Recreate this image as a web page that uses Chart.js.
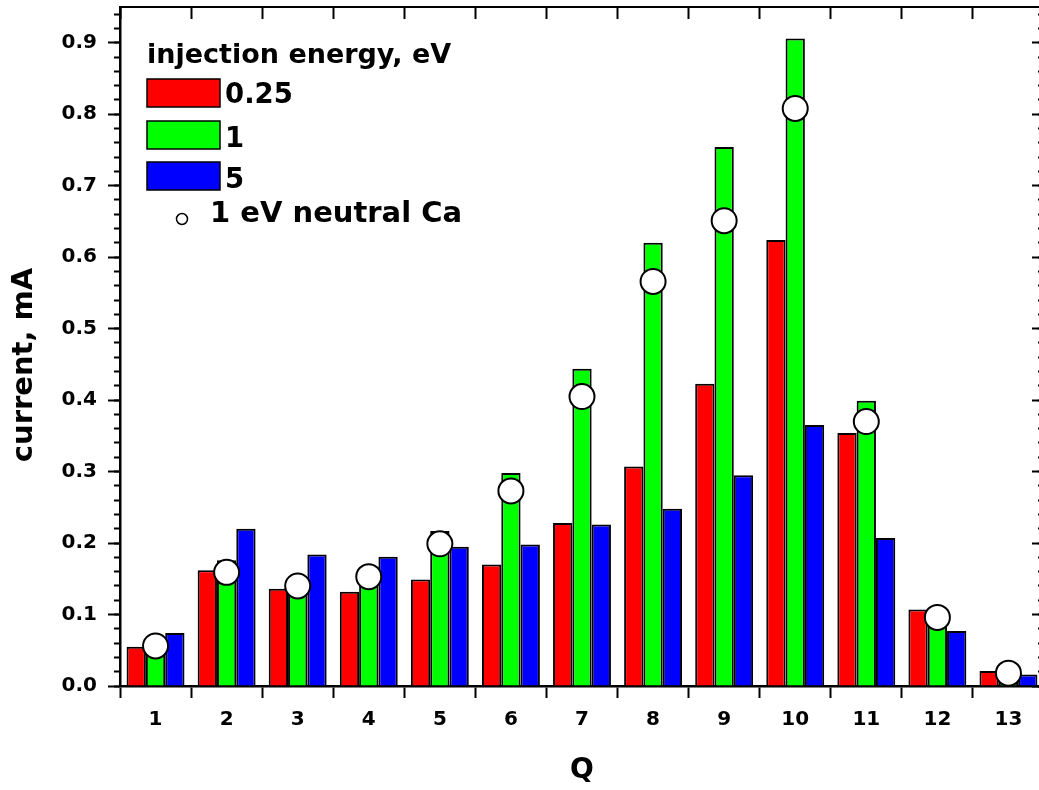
<!DOCTYPE html>
<html><head><meta charset="utf-8">
<script src="https://cdn.jsdelivr.net/npm/chart.js@4/dist/chart.umd.min.js"></script>
<style>html,body{margin:0;padding:0;overflow:hidden;background:#fff}#wrap{position:relative;width:1060px;height:790px}</style>
</head><body><div id="wrap"><canvas id="c"></canvas></div>
<script>
// ---- data ----
const categories = [1, 2, 3, 4, 5, 6, 7, 8, 9, 10, 11, 12, 13];
const xTickLabels = ['1', '2', '3', '4', '5', '6', '7', '8', '9', '10', '11', '12', '13'];
const yTickValues = [0, 0.1, 0.2, 0.3, 0.4, 0.5, 0.6, 0.7, 0.8, 0.9];
const yTickLabels = ['0.0', '0.1', '0.2', '0.3', '0.4', '0.5', '0.6', '0.7', '0.8', '0.9'];
const legendTitle = 'injection energy, eV';
const seriesLabels = ['0.25', '1', '5'];
const markerLabel = '1 eV neutral Ca';
const xTitle = 'Q';
const yTitle = 'current, mA';

const current_025eV = [0.055, 0.162, 0.136, 0.132, 0.149, 0.170, 0.228, 0.307, 0.423, 0.624, 0.354, 0.107, 0.021];
const current_1eV   = [0.062, 0.176, 0.148, 0.156, 0.217, 0.298, 0.444, 0.620, 0.754, 0.906, 0.399, 0.093, 0.017];
const current_5eV   = [0.074, 0.220, 0.184, 0.181, 0.195, 0.198, 0.226, 0.248, 0.295, 0.365, 0.207, 0.077, 0.016];
const neutralCa_1eV = [0.056, 0.159, 0.140, 0.153, 0.199, 0.273, 0.405, 0.566, 0.651, 0.808, 0.370, 0.096, 0.018];

// ---- chart ----
const FONT = '"DejaVu Sans", sans-serif';
Chart.defaults.font.family = FONT;
Chart.defaults.font.weight = 'bold';
Chart.defaults.color = '#000';

const toXY = (vals) => vals.map((v, i) => ({ x: categories[i], y: v }));

const legendPlugin = {
  id: 'boxLegend',
  afterDraw(chart) {
    const ctx = chart.ctx;
    ctx.save();
    ctx.textAlign = 'left';
    ctx.textBaseline = 'alphabetic';
    ctx.fillStyle = '#000';
    ctx.font = 'bold 27px ' + FONT;
    ctx.fillText(legendTitle, 147, 63);
    const boxTops = [79, 121, 162];
    const baselines = [103, 147, 188];
    ctx.font = 'bold 27.5px ' + FONT;
    for (let i = 0; i < 3; i++) {
      const ds = chart.data.datasets[i];
      ctx.fillStyle = ds.backgroundColor;
      ctx.fillRect(147, boxTops[i], 73, 28);
      ctx.lineWidth = 1.5;
      ctx.strokeStyle = '#000';
      ctx.strokeRect(147, boxTops[i], 73, 28);
      ctx.fillStyle = '#000';
      ctx.fillText(ds.label, 225, baselines[i]);
    }
    ctx.beginPath();
    ctx.arc(182, 219, 5.5, 0, Math.PI * 2);
    ctx.fillStyle = '#fff';
    ctx.fill();
    ctx.lineWidth = 1.5;
    ctx.strokeStyle = '#000';
    ctx.stroke();
    ctx.fillStyle = '#000';
    ctx.font = 'bold 29px ' + FONT;
    ctx.fillText(chart.data.datasets[3].label, 210, 222);
    // y axis title
    ctx.translate(24, 365);
    ctx.rotate(-Math.PI / 2);
    ctx.textAlign = 'center';
    ctx.textBaseline = 'middle';
    ctx.font = 'bold 29px ' + FONT;
    ctx.fillText(yTitle, 0, 0);
    ctx.restore();
  }
};

const barCommon = { borderColor: '#000', borderWidth: 2, borderSkipped: 'start', order: 2,
  categoryPercentage: 0.815, barPercentage: 1.0 };

const majorXTicks = (s) => { s.ticks = categories.map(v => ({ value: v })); };
const majorYTicks = (s) => { s.ticks = yTickValues.map(v => ({ value: v })); };
const minorYTicks = (s) => { const t = []; for (let k = 0; k <= 47; k++) t.push({ value: k / 50 }); s.ticks = t; };
const noPad = (s) => { s.paddingTop = 0; s.paddingBottom = 0; s.paddingLeft = 0; s.paddingRight = 0; };

new Chart(document.getElementById('c'), {
  type: 'bar',
  data: {
    datasets: [
      Object.assign({ label: seriesLabels[0], data: toXY(current_025eV), backgroundColor: '#FF0000' }, barCommon),
      Object.assign({ label: seriesLabels[1], data: toXY(current_1eV), backgroundColor: '#00FF00' }, barCommon),
      Object.assign({ label: seriesLabels[2], data: toXY(current_5eV), backgroundColor: '#0000FF' }, barCommon),
      { type: 'line', label: markerLabel, data: toXY(neutralCa_1eV), showLine: false, order: 0,
        pointStyle: 'circle', pointRadius: 12.5, pointBackgroundColor: '#fff', pointBorderColor: '#000',
        pointBorderWidth: 2, backgroundColor: '#fff', borderColor: '#000' }
    ]
  },
  options: {
    responsive: true, maintainAspectRatio: false, animation: false, devicePixelRatio: 1,
    layout: { padding: 0, autoPadding: false },
    plugins: { legend: { display: false }, tooltip: { enabled: false } },
    scales: {
      x: {
        type: 'linear', position: 'bottom', min: 0.5, max: 13.5, offset: false, weight: 1,
        afterBuildTicks: majorXTicks,
        ticks: { autoSkip: false, maxRotation: 0, padding: 10, font: { size: 20, weight: 'bold' },
          callback: (v) => xTickLabels[categories.indexOf(v)] },
        grid: { drawOnChartArea: false, drawTicks: true, tickLength: 12, tickWidth: 2, tickColor: '#000' },
        border: { display: true, color: '#000', width: 2.5 },
        title: { display: true, text: xTitle, font: { size: 28, weight: 'bold' }, padding: { top: 0, bottom: 2 } },
        afterFit: (s) => { s.height = 104; noPad(s); }
      },
      xTop: {
        type: 'linear', position: 'top', min: 0.5, max: 13.5, offset: false,
        afterBuildTicks: majorXTicks,
        ticks: { display: false },
        grid: { drawOnChartArea: false, drawTicks: true, tickLength: -12, tickWidth: 2, tickColor: '#000' },
        border: { display: true, color: '#000', width: 2 },
        afterFit: (s) => { s.height = 7; noPad(s); }
      },
      y: {
        type: 'linear', position: 'left', min: 0, max: 0.95, weight: 1,
        afterBuildTicks: majorYTicks,
        ticks: { padding: 11, font: { size: 20, weight: 'bold' },
          callback: (v) => yTickLabels[yTickValues.findIndex(t => Math.abs(t - v) < 1e-9)] },
        grid: { drawOnChartArea: false, drawTicks: true, tickLength: 12, tickWidth: 2, tickColor: '#000' },
        border: { display: true, color: '#000', width: 2.5 },
        title: { display: false, text: yTitle },
        afterFit: (s) => { s.width = 120; noPad(s); }
      },
      yMinor: {
        type: 'linear', position: 'left', min: 0, max: 0.95, weight: 0,
        afterBuildTicks: minorYTicks,
        ticks: { display: false },
        grid: { drawOnChartArea: false, drawTicks: true, tickLength: 6, tickWidth: 2, tickColor: '#000' },
        border: { display: false },
        afterFit: (s) => { s.width = 0; noPad(s); }
      },
      yRight: {
        type: 'linear', position: 'right', min: 0, max: 0.95, weight: 1,
        afterBuildTicks: majorYTicks,
        ticks: { display: false },
        grid: { drawOnChartArea: false, drawTicks: true, tickLength: -12, tickWidth: 2, tickColor: '#000' },
        border: { display: true, color: '#000', width: 2 },
        afterFit: (s) => { s.width = 16; noPad(s); }
      },
      yRightMinor: {
        type: 'linear', position: 'right', min: 0, max: 0.95, weight: 0,
        afterBuildTicks: minorYTicks,
        ticks: { display: false },
        grid: { drawOnChartArea: false, drawTicks: true, tickLength: -6, tickWidth: 2, tickColor: '#000' },
        border: { display: false },
        afterFit: (s) => { s.width = 0; noPad(s); }
      }
    }
  },
  plugins: [legendPlugin]
});
</script>
</body></html>
